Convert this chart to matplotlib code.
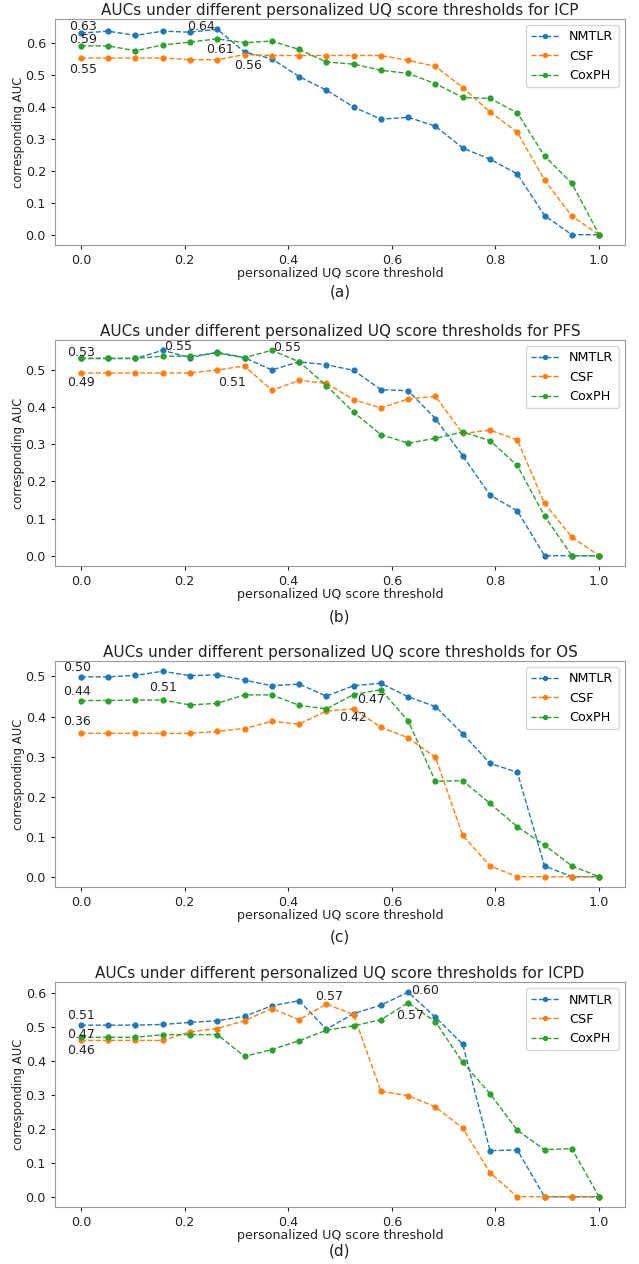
import numpy as np
import matplotlib
matplotlib.use('Agg')
import matplotlib.pyplot as plt

# eixo x: 20 limiares entre 0 e 1
thresholds = np.linspace(0, 1, 20)
models = ['NMTLR', 'CSF', 'CoxPH']
endpoints = ['ICP', 'PFS', 'OS', 'ICPD']
captions = ['(a)', '(b)', '(c)', '(d)']

# valores
icp_nmtlr = [0.630, 0.636, 0.623, 0.636, 0.633, 0.642, 0.571, 0.550, 0.494, 0.452,
             0.399, 0.361, 0.367, 0.339, 0.271, 0.236, 0.190, 0.060, 0.0, 0.0]
icp_csf = [0.552, 0.552, 0.552, 0.552, 0.547, 0.547, 0.563, 0.560, 0.560, 0.560,
           0.560, 0.560, 0.545, 0.526, 0.460, 0.384, 0.320, 0.171, 0.058, 0.0]
icp_coxph = [0.590, 0.590, 0.575, 0.593, 0.602, 0.612, 0.600, 0.605, 0.579, 0.540,
             0.533, 0.514, 0.504, 0.472, 0.429, 0.426, 0.381, 0.246, 0.161, 0.0]

pfs_nmtlr = [0.531, 0.531, 0.531, 0.553, 0.533, 0.548, 0.533, 0.500, 0.522, 0.514,
             0.499, 0.447, 0.444, 0.369, 0.269, 0.163, 0.121, 0.0, 0.0, 0.0]
pfs_csf = [0.492, 0.492, 0.492, 0.492, 0.492, 0.500, 0.511, 0.445, 0.472, 0.464,
           0.420, 0.398, 0.422, 0.429, 0.329, 0.338, 0.312, 0.141, 0.050, 0.0]
pfs_coxph = [0.531, 0.531, 0.531, 0.537, 0.537, 0.545, 0.533, 0.553, 0.522, 0.458,
             0.386, 0.326, 0.303, 0.316, 0.333, 0.310, 0.243, 0.107, 0.0, 0.0]

os_nmtlr = [0.499, 0.499, 0.503, 0.513, 0.502, 0.504, 0.491, 0.477, 0.481, 0.451,
            0.477, 0.483, 0.449, 0.425, 0.357, 0.283, 0.261, 0.027, 0.0, 0.0]
os_csf = [0.358, 0.358, 0.358, 0.358, 0.358, 0.363, 0.370, 0.388, 0.381, 0.414,
          0.419, 0.373, 0.347, 0.298, 0.103, 0.027, 0.0, 0.0, 0.0, 0.0]
os_coxph = [0.440, 0.440, 0.441, 0.441, 0.429, 0.433, 0.454, 0.454, 0.428, 0.419,
            0.455, 0.467, 0.389, 0.238, 0.240, 0.183, 0.125, 0.079, 0.027, 0.0]

icpd_nmtlr = [0.506, 0.506, 0.506, 0.508, 0.514, 0.519, 0.532, 0.563, 0.578, 0.494,
              0.540, 0.565, 0.603, 0.529, 0.450, 0.136, 0.138, 0.0, 0.0, 0.0]
icpd_csf = [0.461, 0.461, 0.461, 0.461, 0.486, 0.496, 0.519, 0.555, 0.522, 0.568,
            0.537, 0.311, 0.298, 0.265, 0.202, 0.071, 0.0, 0.0, 0.0, 0.0]
icpd_coxph = [0.470, 0.470, 0.470, 0.478, 0.478, 0.478, 0.414, 0.434, 0.460, 0.491,
              0.504, 0.522, 0.572, 0.516, 0.396, 0.304, 0.196, 0.139, 0.142, 0.0]

series = [
    [icp_nmtlr, icp_csf, icp_coxph],
    [pfs_nmtlr, pfs_csf, pfs_coxph],
    [os_nmtlr, os_csf, os_coxph],
    [icpd_nmtlr, icpd_csf, icpd_coxph],
]

# deslocamento (px) dos rótulos: (primeiro valor, valor máximo) por modelo
label_offsets = [
    [[(2, 7), (-16, 3)], [(2, -11), (4, -11)], [(2, 6), (3, -11)]],
    [[(0, 6), (15, 4)], [(0, -10), (-12, -17)], [(0, 6), (15, 3)]],
    [[(-4, 9), (0, -16)], [(-4, 12), (-1, -9)], [(-4, 9), (-10, -10)]],
    [[(0, 10), (17, 2)], [(0, -10), (3, 8)], [(0, 3), (2, -13)]],
]

colors = ['#1f77b4', '#ff7f0e', '#2ca02c']

W, H = 639, 1264
fig = plt.figure(figsize=(W / 100, H / 100), dpi=100)

# posições dos eixos em pixels (topo, base)
boxes = [(19, 245), (340, 566), (661, 887), (982, 1207)]
caption_y = [292, 617, 937, 1251]
left, right = 55, 625

for k in range(4):
    top, bottom = boxes[k]
    ax = fig.add_axes([left / W, 1 - bottom / H, (right - left) / W, (bottom - top) / H])
    drawn = set()
    for m in range(3):
        vals = series[k][m]
        ax.plot(thresholds, vals, '--', marker='o', markersize=3.5, linewidth=1,
                color=colors[m], label=models[m])
        first = 0
        best = int(np.argmax(vals))
        for idx, off in zip([first, best], label_offsets[k][m]):
            txt = f'{vals[idx]:.2f}'
            # rótulos idênticos no mesmo ponto só uma vez
            if (idx, txt) in drawn:
                continue
            drawn.add((idx, txt))
            ax.annotate(txt, (thresholds[idx], vals[idx]),
                        xytext=off, textcoords='offset pixels',
                        ha='center', va='center', fontsize=9, color='#222222')
    ax.set_title(f'AUCs under different personalized UQ score thresholds for {endpoints[k]}',
                 fontsize=11, color='#222222', pad=3)
    ax.set_xlabel('personalized UQ score threshold', fontsize=9.1, color='#222222', labelpad=0)
    ax.set_ylabel('corresponding AUC', fontsize=8.4, color='#222222', labelpad=0.5)
    ax.tick_params(labelsize=9.2, colors='#222222', length=3)
    ax.set_xticks([0.0, 0.2, 0.4, 0.6, 0.8, 1.0])
    for s in ax.spines.values():
        s.set_color('#999999')
    leg = ax.legend(loc='upper right', fontsize=9.2, markerscale=0.8, handlelength=2.2)
    leg.get_frame().set_edgecolor('#cccccc')
    fig.text((left + right) / 2 / W, 1 - caption_y[k] / H, captions[k],
             ha='center', va='center', fontsize=11, color='#222222')

fig.savefig('out.png', dpi=100)
